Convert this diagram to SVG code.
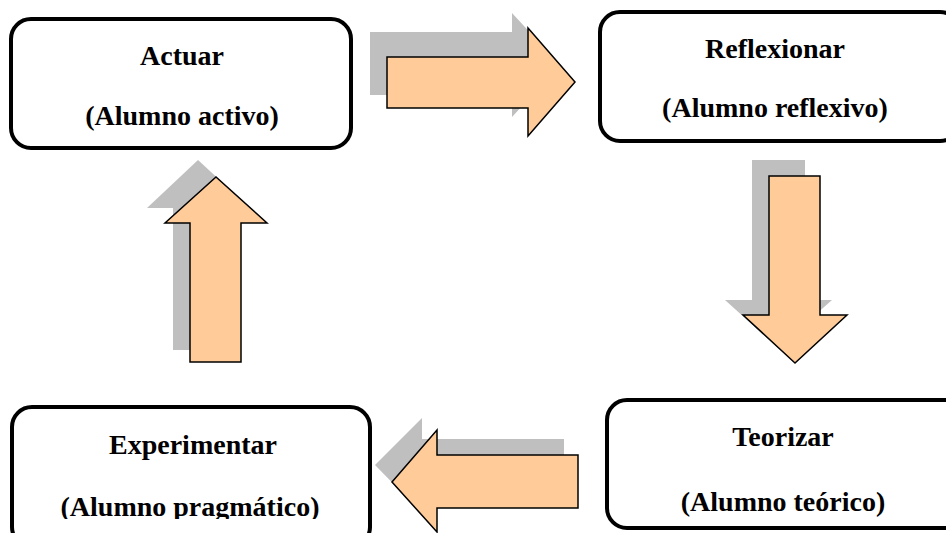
<svg xmlns="http://www.w3.org/2000/svg" width="946" height="533" viewBox="0 0 946 533">
<defs>
<style>
.box{fill:#fff;stroke:#000;stroke-width:4}
.sh{fill:#bfbfbf}
.ar{fill:#ffcc99;stroke:#000;stroke-width:1.5;stroke-linejoin:miter}
</style>
<clipPath id="clipExp"><rect x="0" y="0" width="946" height="519"/></clipPath>
</defs>
<rect width="946" height="533" fill="#fff"/>
<g id="connectors">
<g id="arrow-right">
<polygon class="sh" points="370,32 512,32 512,13 560,65 512,117 512,95 370,95"/>
<polygon class="ar" points="387,57 528,57 528,28 575,82 528,136 528,108 387,108"/>
</g>
<g id="arrow-down">
<polygon class="sh" points="752,160 805,160 805,300 832,300 778,348 725,300 752,300"/>
<polygon class="ar" points="769,176 820,176 820,315 847,315 795,363 743,315 769,315"/>
</g>
<g id="arrow-left">
<polygon class="sh" points="564,439 564,492 422,492 422,513 375,465 422,418 422,439"/>
<polygon class="ar" points="578,455 578,508 437,508 437,532 392,482 437,430 437,455"/>
</g>
<g id="arrow-up">
<polygon class="sh" points="173,350 173,208 147,208 198,160 250,208 224,208 224,350"/>
<polygon class="ar" points="190,362 190,223 165,223 216,177 267,223 241,223 241,362"/>
</g>
</g>
<g font-family="Liberation Serif, Times New Roman, serif" font-weight="bold" font-size="28" text-anchor="middle" fill="#000">
<g id="actuar">
<rect class="box" x="11" y="19" width="340" height="129" rx="20"/>
<text x="182" y="65">Actuar</text>
<text x="182" y="125">(Alumno activo)</text>
</g>
<g id="reflexionar">
<rect class="box" x="600" y="12" width="360" height="129" rx="20"/>
<text x="775" y="58">Reflexionar</text>
<text x="775" y="117">(Alumno reflexivo)</text>
</g>
<g id="teorizar">
<rect class="box" x="607" y="400" width="360" height="128" rx="20"/>
<text x="783" y="446">Teorizar</text>
<text x="783" y="511">(Alumno teórico)</text>
</g>
<g id="experimentar">
<rect class="box" x="12" y="407" width="358" height="140" rx="20"/>
<text x="193" y="454">Experimentar</text>
<text x="190" y="516" clip-path="url(#clipExp)">(Alumno pragmático)</text>
</g>
</g>
</svg>
